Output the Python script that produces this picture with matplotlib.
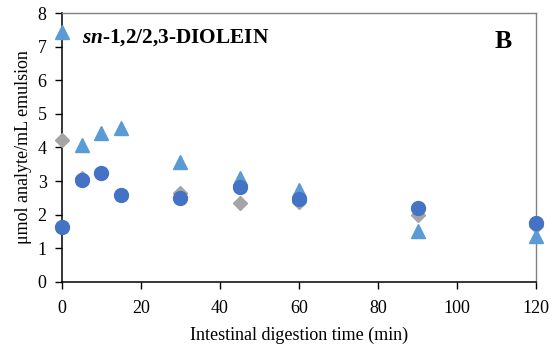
import matplotlib
matplotlib.use("Agg")
import matplotlib.pyplot as plt

time_min = [0, 5, 10, 15, 30, 45, 60, 90, 120]
triangles = [7.45, 4.08, 4.43, 4.58, 3.57, 3.10, 2.74, 1.52, 1.37]
diamonds = [4.23, 3.10, 3.25, 2.60, 2.65, 2.35, 2.38, 1.98, 1.65]
circles = [1.63, 3.02, 3.23, 2.60, 2.50, 2.83, 2.48, 2.20, 1.76]
x_ticks = [0, 20, 40, 60, 80, 100, 120]
y_ticks = [0, 1, 2, 3, 4, 5, 6, 7, 8]

plt.rcParams['font.family'] = ['Liberation Serif', 'DejaVu Serif']
plt.rcParams['mathtext.fontset'] = 'custom'
plt.rcParams['mathtext.rm'] = 'Liberation Serif'
plt.rcParams['mathtext.it'] = 'Liberation Serif:italic'
plt.rcParams['mathtext.bf'] = 'Liberation Serif:bold'
plt.rcParams['mathtext.bfit'] = 'Liberation Serif:bold:italic'

fig = plt.figure(figsize=(5.55, 3.52), dpi=100)
ax = fig.add_axes([0.1117, 0.199, 0.8541, 0.764])

ax.plot(time_min, diamonds, linestyle='none', marker='D', markersize=7,
        color='#A5A5A5', clip_on=False, zorder=3)
ax.plot(time_min, triangles, linestyle='none', marker='^', markersize=10,
        color='#5B9BD5', clip_on=False, zorder=4)
ax.plot(time_min, circles, linestyle='none', marker='o', markersize=10,
        color='#4472C4', clip_on=False, zorder=5)

ax.set_xlim(0, 120)
ax.set_ylim(0, 8)
ax.set_xticks(x_ticks)
ax.set_yticks(y_ticks)
ax.tick_params(axis='both', direction='out', length=5, width=1, labelsize=13,
               color='black')
ax.tick_params(axis='x', pad=8)
ax.tick_params(axis='y', pad=6)
for s in ['left', 'bottom']:
    ax.spines[s].set_color('black')
    ax.spines[s].set_linewidth(1.1)
for s in ['top', 'right']:
    ax.spines[s].set_color('#808080')
    ax.spines[s].set_linewidth(1.0)

ax.set_xlabel('Intestinal digestion time (min)', fontsize=13, labelpad=7)
ax.set_ylabel('μmol analyte/mL emulsion', fontsize=13, labelpad=4)

ax.text(0.042, 0.907, r'$\bfit{sn}$' + '-1,2/2,3-DIOLEIN', transform=ax.transAxes,
        fontsize=15.3, fontweight='bold', va='center', ha='left')
ax.text(0.913, 0.893, 'B', transform=ax.transAxes, fontsize=18.5,
        fontweight='bold', va='center', ha='left')

fig.savefig('out.png', dpi=100)
